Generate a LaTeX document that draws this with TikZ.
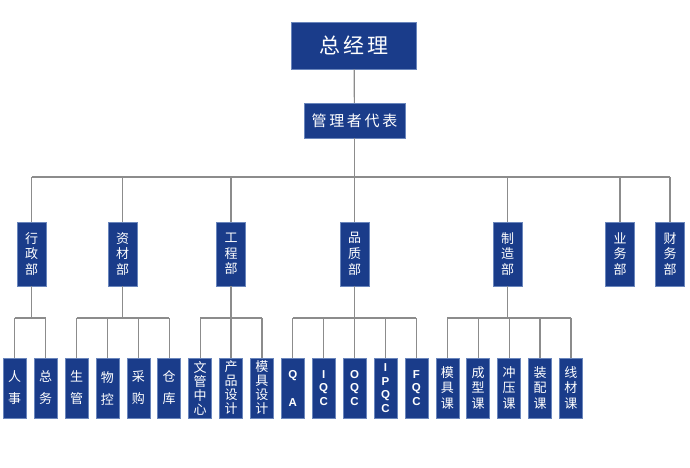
\documentclass[tikz,border=0pt]{standalone}
\usepackage{fontspec}
\setmainfont{Noto Sans CJK SC}
\newfontfamily\latinfont{Liberation Sans}
\definecolor{boxblue}{HTML}{1A3C8A}
\definecolor{boxedge}{HTML}{6A86BC}
\definecolor{linegray}{HTML}{8C8C8C}

\begin{document}
\begin{tikzpicture}[x=1pt,y=-1pt]

\tikzstyle{cell}=[rectangle,draw=boxedge,line width=0.5pt,fill=boxblue,text=white,inner sep=0pt,align=center]
\tikzstyle{headbox}=[cell,minimum width=125pt,minimum height=47pt,font=\fontsize{21}{21}\selectfont\addfontfeature{LetterSpace=14}]
\tikzstyle{repbox}=[cell,minimum width=101pt,minimum height=35pt,font=\fontsize{15}{15}\selectfont\addfontfeature{LetterSpace=18}]
\tikzstyle{deptbox}=[cell,minimum width=29pt,minimum height=64pt,font=\fontsize{13}{15.7}\selectfont]
\tikzstyle{subbox}=[cell,minimum width=23pt,minimum height=60pt,font=\fontsize{13}{22}\selectfont]
\tikzstyle{subfour}=[subbox,font=\fontsize{13}{14}\selectfont]
\tikzstyle{sublatin}=[subbox,font=\latinfont\bfseries\fontsize{11.5}{13.6}\selectfont]
\tikzstyle{link}=[draw=linegray,line width=1.2pt]

\useasboundingbox (0,0) rectangle (690,467);

\draw (354,45.5) node [headbox] (gm) {总经理} ;
\draw (354.5,120.5) node [repbox] (rep) {管理者代表} ;

\draw (31.5,254) node [deptbox] (d1) {行\\政\\部} ;
\draw (122.7,254) node [deptbox] (d2) {资\\材\\部} ;
\draw (231,254) node [deptbox] (d3) {工\\程\\部} ;
\draw (354.5,254) node [deptbox] (d4) {品\\质\\部} ;
\draw (507.5,254) node [deptbox] (d5) {制\\造\\部} ;
\draw (620,254) node [deptbox] (d6) {业\\务\\部} ;
\draw (670,254) node [deptbox] (d7) {财\\务\\部} ;

\draw (14.7,388) node [subbox] (s1) {人\\事} ;
\draw (45.6,388) node [subbox] (s2) {总\\务} ;
\draw (76.5,388) node [subbox] (s3) {生\\管} ;
\draw (107.4,388) node [subbox] (s4) {物\\控} ;
\draw (138.3,388) node [subbox] (s5) {采\\购} ;
\draw (169.2,388) node [subbox] (s6) {仓\\库} ;
\draw (200.1,388) node [subfour] (s7) {文\\管\\中\\心} ;
\draw (231,388) node [subfour] (s8) {产\\品\\设\\计} ;
\draw (261.9,388) node [subfour] (s9) {模\\具\\设\\计} ;
\draw (292.8,388) node [sublatin,font=\latinfont\bfseries\fontsize{11.5}{28}\selectfont] (s10) {Q\\A} ;
\draw (323.7,388) node [sublatin] (s11) {I\\Q\\C} ;
\draw (354.6,388) node [sublatin] (s12) {O\\Q\\C} ;
\draw (385.5,388) node [sublatin] (s13) {I\\P\\Q\\C} ;
\draw (416.4,388) node [sublatin] (s14) {F\\Q\\C} ;
\draw (447.3,388) node [subfour,font=\fontsize{13}{15.5}\selectfont] (s15) {模\\具\\课} ;
\draw (478.2,388) node [subfour,font=\fontsize{13}{15.5}\selectfont] (s16) {成\\型\\课} ;
\draw (509.1,388) node [subfour,font=\fontsize{13}{15.5}\selectfont] (s17) {冲\\压\\课} ;
\draw (540,388) node [subfour,font=\fontsize{13}{15.5}\selectfont] (s18) {装\\配\\课} ;
\draw (570.9,388) node [subfour,font=\fontsize{13}{15.5}\selectfont] (s19) {线\\材\\课} ;

\coordinate (bar) at (0,177) ;
\coordinate (subbar) at (0,318) ;

% top of the tree
\draw [link] (gm) -- (rep) ;
\draw [link] (rep) -- (rep |- bar) ;
\draw [link] (d1 |- bar) -- (d7 |- bar) ;
\foreach \i in {1,...,7} \draw [link] (d\i.north) -- (d\i |- bar) ;

% departments to sections
\draw [link] (d1) -- (d1 |- subbar) ;
\draw [link] (s1 |- subbar) -- (s2 |- subbar) ;
\draw [link] (d2) -- (d2 |- subbar) ;
\draw [link] (s3 |- subbar) -- (s6 |- subbar) ;
\draw [link] (d3) -- (d3 |- subbar) ;
\draw [link] (s7 |- subbar) -- (s9 |- subbar) ;
\draw [link] (d4) -- (d4 |- subbar) ;
\draw [link] (s10 |- subbar) -- (s14 |- subbar) ;
\draw [link] (d5) -- (d5 |- subbar) ;
\draw [link] (s15 |- subbar) -- (s19 |- subbar) ;
\foreach \i in {1,...,19} \draw [link] (s\i.north) -- (s\i |- subbar) ;

\end{tikzpicture}
\end{document}
